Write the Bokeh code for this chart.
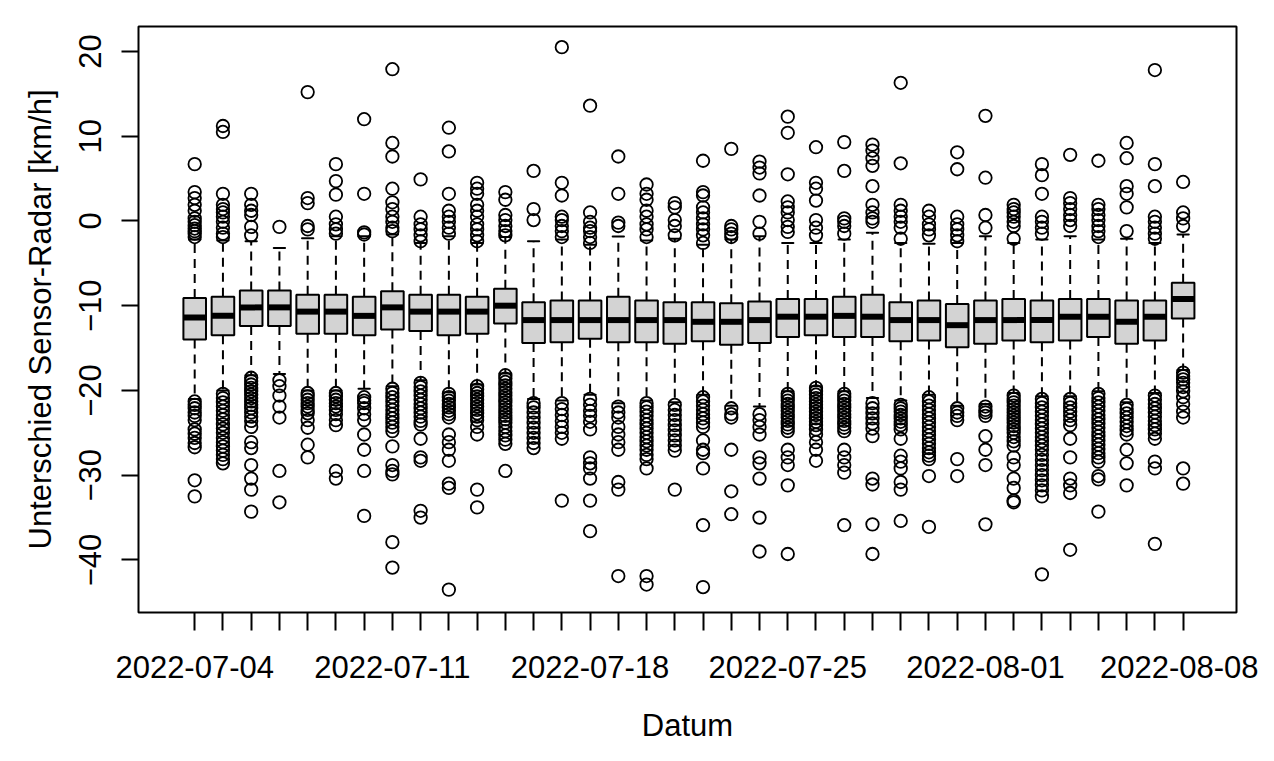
from bokeh.plotting import figure
from bokeh.models import Range1d, FixedTicker, ColumnDataSource
from bokeh.embed import file_html
from bokeh.resources import INLINE

dates = ["2022-07-04", "2022-07-05", "2022-07-06", "2022-07-07", "2022-07-08", "2022-07-09",
         "2022-07-10", "2022-07-11", "2022-07-12", "2022-07-13", "2022-07-14", "2022-07-15",
         "2022-07-16", "2022-07-17", "2022-07-18", "2022-07-19", "2022-07-20", "2022-07-21",
         "2022-07-22", "2022-07-23", "2022-07-24", "2022-07-25", "2022-07-26", "2022-07-27",
         "2022-07-28", "2022-07-29", "2022-07-30", "2022-07-31", "2022-08-01", "2022-08-02",
         "2022-08-03", "2022-08-04", "2022-08-05", "2022-08-06", "2022-08-07", "2022-08-08"]

q1 = [-14.0, -13.5, -12.4, -12.4, -13.3, -13.3, -13.5, -12.8, -13.0, -13.5, -13.3, -12.1,
      -14.4, -14.3, -13.9, -14.3, -14.3, -14.5, -14.2, -14.6, -14.4, -13.7, -13.5, -13.7,
      -13.7, -14.2, -14.1, -14.9, -14.5, -14.1, -14.3, -14.1, -13.7, -14.5, -14.1, -11.5]
med = [-11.4, -11.2, -10.2, -10.2, -10.7, -10.7, -11.2, -10.2, -10.7, -10.7, -10.7, -10.0,
       -11.7, -11.7, -11.7, -11.7, -11.7, -11.7, -11.9, -11.9, -11.7, -11.3, -11.3, -11.2,
       -11.3, -11.7, -11.7, -12.3, -11.7, -11.7, -11.7, -11.3, -11.3, -11.9, -11.3, -9.2]
q3 = [-9.1, -8.95, -8.2, -8.2, -8.7, -8.7, -8.95, -8.3, -8.7, -8.7, -8.95, -8.0,
      -9.6, -9.4, -9.4, -8.95, -9.4, -9.6, -9.6, -9.7, -9.5, -9.2, -9.2, -8.95,
      -8.7, -9.6, -9.4, -9.8, -9.4, -9.2, -9.4, -9.2, -9.2, -9.4, -9.4, -7.3]
wlo = [-21.0, -20.0, -18.2, -18.05, -20.0, -20.0, -19.8, -19.5, -18.8, -20.2, -19.3, -18.0,
       -21.0, -21.2, -20.5, -21.5, -21.2, -21.4, -20.5, -21.8, -21.9, -20.1, -19.5, -20.1,
       -20.9, -21.2, -20.5, -21.8, -21.6, -20.3, -20.7, -20.7, -20.1, -21.4, -20.3, -17.6]
whi = [-2.2, -2.3, -2.4, -3.2, -2.05, -1.8, -1.8, -1.6, -2.6, -1.8, -2.6, -1.9,
       -2.4, -2.2, -2.8, -1.85, -2.3, -2.1, -2.8, -2.2, -1.8, -2.6, -2.6, -2.2,
       -1.4, -2.6, -2.7, -2.6, -1.8, -2.6, -2.2, -1.8, -2.2, -2.1, -2.6, -1.6]

outliers = [
    [6.7, 3.4, 2.7, 1.9, 1.2, 0.3, -0.1, -0.5, -0.9, -1.2, -1.5, -1.9, -21.3, -21.7, -22.1, -22.6, -23.0, -23.5, -24.6, -25.1, -25.6, -26.2, -26.7, -30.6, -32.5],
    [11.2, 10.5, 3.2, 1.9, 1.4, 1.0, 0.5, -0.1, -0.8, -1.5, -1.9, -20.4, -20.9, -21.4, -21.9, -22.4, -22.9, -23.4, -24.0, -24.5, -25.0, -25.6, -26.1, -26.6, -27.1, -27.6, -28.1, -28.6],
    [3.2, 1.9, 1.2, 0.7, -0.7, -1.7, -18.5, -18.9, -19.3, -19.7, -20.1, -20.5, -20.9, -21.3, -21.7, -22.1, -22.6, -23.1, -23.6, -24.3, -26.1, -26.8, -28.8, -30.4, -31.7, -34.3],
    [-0.7, -18.8, -19.5, -20.6, -21.9, -23.2, -29.5, -33.2],
    [15.2, 2.7, 2.1, -0.6, -1.0, -20.3, -20.7, -21.1, -21.5, -21.9, -22.3, -22.7, -23.5, -24.4, -26.4, -27.9],
    [6.7, 4.7, 3.1, 0.5, -0.4, -1.0, -1.5, -20.3, -20.7, -21.1, -21.5, -21.9, -22.3, -22.8, -23.5, -24.1, -29.5, -30.4],
    [12.0, 3.2, -1.35, -1.6, -20.8, -21.2, -21.5, -22.1, -22.8, -23.5, -25.2, -27.0, -29.5, -34.8],
    [17.9, 9.2, 7.6, 3.8, 2.2, 1.4, 0.5, -0.1, -0.8, -1.2, -19.8, -20.3, -20.8, -21.3, -21.8, -22.3, -22.8, -23.3, -23.8, -24.3, -24.8, -26.6, -28.8, -29.5, -29.9, -37.9, -40.9],
    [4.9, 0.5, -0.4, -1.0, -1.7, -2.4, -19.1, -19.6, -20.1, -20.6, -21.1, -21.6, -22.1, -22.6, -23.1, -23.6, -24.0, -25.7, -27.9, -28.3, -34.2, -35.0],
    [11.0, 8.2, 3.2, 1.2, 0.5, -0.1, -0.8, -1.5, -20.4, -20.8, -21.2, -21.6, -22.0, -22.4, -22.8, -23.2, -25.2, -26.1, -27.0, -28.3, -31.0, -31.5, -43.5],
    [4.5, 3.8, 3.2, 1.9, 1.2, 0.5, -0.4, -1.0, -1.7, -2.4, -19.5, -19.9, -20.3, -20.7, -21.1, -21.5, -21.9, -22.3, -22.7, -23.1, -23.5, -24.3, -25.2, -31.7, -33.8],
    [3.4, 2.5, 0.7, 0.1, -0.6, -1.2, -1.7, -18.2, -18.6, -19.0, -19.4, -19.8, -20.2, -20.6, -21.0, -21.4, -21.8, -22.2, -22.6, -23.0, -23.4, -23.8, -24.3, -24.8, -25.3, -25.8, -26.3, -29.5],
    [5.9, 1.4, 0.1, -21.5, -22.0, -22.6, -23.2, -23.8, -24.4, -25.0, -25.6, -26.2, -26.8],
    [20.5, 4.5, 3.0, 0.5, 0.1, -0.6, -1.2, -1.9, -21.5, -22.2, -22.9, -23.6, -24.3, -25.0, -25.7, -33.0],
    [13.6, 1.0, -0.1, -0.8, -1.2, -1.9, -2.6, -21.0, -21.7, -22.4, -23.0, -23.7, -24.6, -27.9, -28.6, -29.2, -30.4, -33.0, -36.6],
    [7.6, 3.2, -0.2, -0.6, -21.9, -22.6, -23.2, -24.3, -25.2, -26.1, -27.0, -30.8, -31.7, -41.9],
    [4.3, 3.2, 2.5, 1.2, 0.5, -0.4, -1.0, -1.9, -21.5, -22.0, -22.5, -23.0, -23.5, -24.0, -24.5, -25.0, -25.5, -26.0, -26.5, -27.0, -27.6, -28.1, -29.2, -41.9, -42.9],
    [2.1, 1.6, 0.1, -0.6, -1.7, -21.7, -22.3, -22.9, -23.5, -24.1, -24.7, -25.3, -25.9, -26.5, -27.1, -31.7],
    [7.1, 3.4, 3.0, 1.6, 1.0, 0.3, -0.4, -1.0, -1.7, -2.6, -20.8, -21.3, -21.8, -22.3, -22.8, -23.3, -23.8, -24.3, -25.9, -27.0, -27.4, -29.2, -35.9, -43.2],
    [8.5, -0.6, -1.0, -1.5, -1.9, -22.1, -22.8, -23.2, -27.0, -31.9, -34.6],
    [7.0, 6.3, 5.6, 3.0, -0.1, -1.5, -22.8, -23.5, -24.3, -25.2, -27.9, -28.6, -30.4, -35.0, -39.0],
    [12.3, 10.4, 5.5, 2.3, 1.6, 1.0, 0.1, -0.7, -1.3, -20.4, -20.8, -21.2, -21.6, -22.0, -22.4, -22.8, -23.2, -23.6, -24.0, -24.4, -24.8, -27.0, -27.9, -28.8, -31.2, -39.3],
    [8.7, 4.5, 3.8, 2.4, 0.1, -0.8, -1.7, -19.7, -20.1, -20.5, -20.9, -21.3, -21.7, -22.1, -22.5, -22.9, -23.3, -23.7, -24.1, -24.6, -25.2, -26.1, -27.0, -28.3],
    [9.3, 5.9, 0.3, -0.1, -0.6, -1.5, -20.4, -20.8, -21.2, -21.6, -22.0, -22.4, -22.8, -23.2, -23.6, -24.0, -24.4, -24.8, -27.0, -27.9, -28.8, -29.7, -35.9],
    [9.0, 8.3, 7.4, 6.5, 4.1, 1.9, 1.0, 0.3, -0.1, -21.5, -22.1, -22.7, -23.3, -23.9, -24.5, -25.4, -30.4, -31.1, -35.8, -39.3],
    [16.3, 6.8, 1.9, 1.2, 0.5, -0.1, -0.8, -2.1, -21.7, -22.1, -22.5, -22.9, -23.3, -23.7, -24.1, -24.6, -25.7, -27.7, -28.4, -29.2, -30.8, -31.7, -35.4],
    [1.2, 0.5, -0.4, -1.0, -1.7, -20.8, -21.3, -21.8, -22.3, -22.8, -23.3, -23.8, -24.3, -24.8, -25.3, -25.8, -26.3, -26.8, -27.3, -27.7, -28.1, -30.1, -36.1],
    [8.1, 6.1, 0.5, -0.4, -1.0, -1.7, -2.4, -22.1, -22.6, -23.0, -23.5, -28.1, -30.1],
    [12.4, 5.1, 0.7, -0.8, -21.9, -22.3, -22.6, -23.0, -25.4, -27.0, -28.8, -35.8],
    [1.9, 1.4, 1.0, 0.5, -0.1, -0.6, -2.1, -20.6, -21.0, -21.4, -21.8, -22.2, -22.6, -23.0, -23.4, -23.8, -24.2, -24.6, -25.0, -25.5, -26.0, -26.5, -27.9, -28.8, -30.4, -31.5, -33.0, -33.2],
    [6.7, 5.4, 3.2, 0.5, -0.1, -0.8, -1.5, -21.0, -21.5, -22.0, -22.5, -23.0, -23.5, -24.0, -24.5, -25.0, -25.5, -26.0, -26.5, -27.0, -27.6, -28.2, -28.8, -29.4, -30.0, -30.6, -31.2, -31.8, -32.5, -41.7],
    [7.8, 2.7, 2.1, 1.4, 0.7, 0.1, -0.6, -21.0, -21.5, -22.0, -22.5, -23.0, -23.5, -24.1, -25.7, -27.9, -30.4, -31.2, -32.1, -38.8],
    [7.1, 1.9, 1.4, 0.7, 0.1, -0.6, -1.2, -1.9, -20.4, -20.9, -21.4, -21.9, -22.4, -22.9, -23.4, -23.9, -24.4, -24.9, -25.4, -25.9, -26.4, -26.9, -27.4, -27.9, -28.4, -30.1, -30.5, -34.3],
    [9.2, 7.4, 4.1, 3.2, 1.6, -1.2, -21.7, -22.2, -22.7, -23.2, -23.7, -24.2, -24.7, -25.2, -27.0, -28.6, -31.2],
    [17.8, 6.7, 4.1, 0.5, -0.1, -0.8, -1.5, -2.1, -20.6, -21.1, -21.6, -22.1, -22.6, -23.1, -23.6, -24.1, -24.6, -25.1, -25.7, -28.4, -29.2, -38.1],
    [4.6, 1.0, 0.3, -0.6, -17.9, -18.3, -18.7, -19.1, -19.6, -20.1, -20.8, -21.6, -22.5, -23.2, -29.2, -31.0],
]

y_ticks = [-40, -30, -20, -10, 0, 10, 20]
label_every = 7
x_title = "Datum"
y_title = "Unterschied Sensor-Radar [km/h]"

FONT = "Liberation Sans"
BOX_W = 0.8

xs = list(range(len(dates)))
src = ColumnDataSource(dict(
    x=xs, q1=q1, med=med, q3=q3, wlo=wlo, whi=whi,
    left=[i - BOX_W / 2 for i in xs], right=[i + BOX_W / 2 for i in xs],
    sl=[i - BOX_W / 4 for i in xs], sr=[i + BOX_W / 4 for i in xs],
))
ox, oy = [], []
for i, vals in enumerate(outliers):
    for v in vals:
        ox.append(i)
        oy.append(v)

p = figure(width=1258, height=745, output_backend="svg", toolbar_location=None,
           x_range=Range1d(-1.99, 36.89), y_range=Range1d(-46.2, 22.94),
           min_border_left=138, min_border_right=22, min_border_top=26, min_border_bottom=132)
p.xgrid.visible = False
p.ygrid.visible = False
p.outline_line_color = "black"
p.outline_line_width = 2
p.outline_line_alpha = 1
p.background_fill_color = "white"
p.border_fill_color = "white"

# whiskers
p.segment(x0="x", y0="q3", x1="x", y1="whi", source=src, line_color="black",
          line_width=2, line_dash="9 6")
p.segment(x0="x", y0="q1", x1="x", y1="wlo", source=src, line_color="black",
          line_width=2, line_dash="9 6")
# staples
p.segment(x0="sl", y0="whi", x1="sr", y1="whi", source=src, line_color="black",
          line_width=2, line_cap="round")
p.segment(x0="sl", y0="wlo", x1="sr", y1="wlo", source=src, line_color="black",
          line_width=2, line_cap="round")
# boxes
p.quad(left="left", right="right", bottom="q1", top="q3", source=src,
       fill_color="#D3D3D3", line_color="black", line_width=2)
p.segment(x0="left", y0="med", x1="right", y1="med", source=src, line_color="black",
          line_width=6, line_cap="butt")
# outliers
p.scatter(ox, oy, marker="circle", size=12.5, fill_color=None, line_color="black",
          line_width=1.8)

for ax in (p.xaxis[0], p.yaxis[0]):
    ax.axis_line_color = None
    ax.major_tick_in = 0
    ax.minor_tick_line_color = None
    ax.major_tick_line_width = 2
    ax.major_tick_line_color = "black"
    ax.major_label_text_font = FONT
    ax.major_label_text_font_size = "31px"
    ax.major_label_text_color = "black"
    ax.axis_label_text_font = FONT
    ax.axis_label_text_font_size = "31px"
    ax.axis_label_text_font_style = "normal"
    ax.axis_label_text_color = "black"

p.yaxis.ticker = FixedTicker(ticks=y_ticks)
p.yaxis.major_label_orientation = "vertical"
p.yaxis.major_tick_out = 17
p.yaxis.major_label_standoff = 20
p.yaxis.axis_label = y_title
p.yaxis.axis_label_standoff = 19

p.xaxis.ticker = FixedTicker(ticks=xs)
p.xaxis.major_label_overrides = {i: (d if i % label_every == 0 else "") for i, d in enumerate(dates)}
p.xaxis.major_tick_out = 18
p.xaxis.major_label_standoff = 25
p.xaxis.axis_label = x_title
p.xaxis.axis_label_standoff = 27

open("out.html", "w").write(file_html(p, INLINE))
